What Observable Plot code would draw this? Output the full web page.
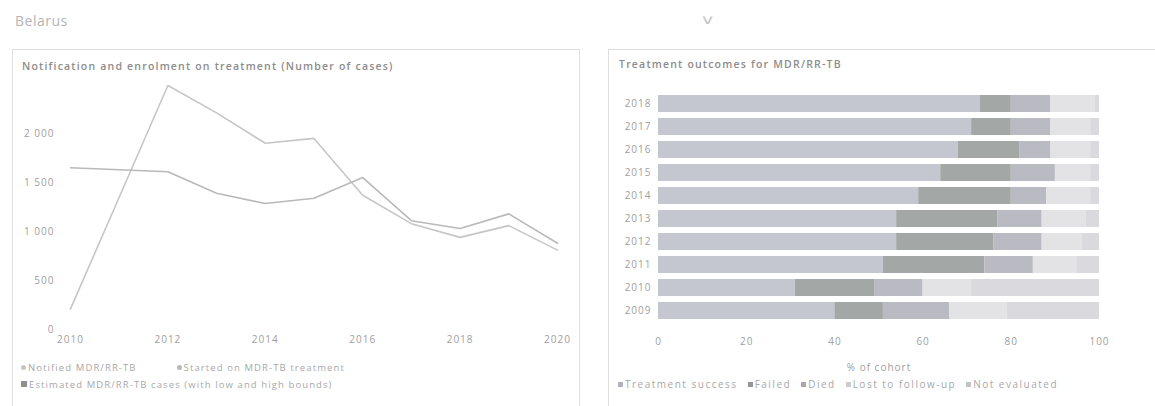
<!DOCTYPE html>
<html><head><meta charset="utf-8">
<script src="https://cdn.jsdelivr.net/npm/d3@7"></script>
<script src="https://cdn.jsdelivr.net/npm/@observablehq/plot@0.6"></script>
<style>
body{margin:0;width:1155px;height:406px;overflow:hidden;background:#fff;font-family:"Open Sans",sans-serif;position:relative}
.abs{position:absolute}
.country{left:15px;top:11px;font-size:14px;color:#b4b4b4;letter-spacing:0.5px}
.chev{left:700px;top:10px;font-size:13px;color:#c8c8c8;transform:scaleX(1.6);transform-origin:left top}
.panel{border:1px solid #dedede;}
.ptitle{font-size:10.5px;font-weight:600;color:#8c8c8c;letter-spacing:1.2px;white-space:nowrap}
.legend{font-size:9.5px;color:#a8a8a8;letter-spacing:1.1px;white-space:nowrap}
.sw{display:inline-block;width:5px;height:5px;margin-right:2px;vertical-align:1px}
.dot{border-radius:50%}
</style>
</head><body>
<div class="abs country">Belarus</div>
<div class="abs chev">∨</div>
<div class="abs panel" style="left:12px;top:49px;width:566px;height:370px"></div>
<div class="abs panel" style="left:608px;top:49px;width:560px;height:370px"></div>
<div class="abs ptitle" style="left:22px;top:59px">Notification and enrolment on treatment (Number of cases)</div>
<div class="abs ptitle" style="left:619px;top:57px">Treatment outcomes for MDR/RR-TB</div>
<div id="left" class="abs" style="left:13px;top:75px"></div>
<div id="right" class="abs" style="left:609px;top:75px"></div>
<div id="legL1" class="abs legend" style="left:21px;top:361px"></div>
<div id="legL2" class="abs legend" style="left:21px;top:378px"></div>
<div id="legR" class="abs legend" style="left:618px;top:377px;font-size:10px;letter-spacing:1.5px"></div>
<script>
// ---- Left chart data ----
const years = [2010, 2011, 2012, 2013, 2014, 2015, 2016, 2017, 2018, 2019, 2020];
const notified = [210, 1350, 2490, 2210, 1900, 1950, 1370, 1080, 940, 1060, 810];
const started = [1650, 1630, 1610, 1390, 1285, 1340, 1550, 1110, 1030, 1180, 880];
const yTicks = [0, 500, 1000, 1500, 2000];
const xTicks = [2010, 2012, 2014, 2016, 2018, 2020];
const lineSeries = ["Notified MDR/RR-TB", "Started on MDR-TB treatment"];
const estLabel = "Estimated MDR/RR-TB cases (with low and high bounds)";

// ---- Right chart data ----
const cohorts = [2018, 2017, 2016, 2015, 2014, 2013, 2012, 2011, 2010, 2009];
const outcomes = ["Treatment success", "Failed", "Died", "Lost to follow-up", "Not evaluated"];
const success = [73, 71, 68, 64, 59, 54, 54, 51, 31, 40];
const failed  = [7, 9, 14, 16, 21, 23, 22, 23, 18, 11];
const died    = [9, 9, 7, 10, 8, 10, 11, 11, 11, 15];
const lost    = [10, 9, 9, 8, 10, 10, 9, 10, 11, 13];
const notEval = [1, 2, 2, 2, 2, 3, 4, 5, 29, 21];
const pctTicks = [0, 20, 40, 60, 80, 100];

const lineColors = ["#c6c6c6", "#b9b9b9"];
const outcomeColors = ["#c4c7d0", "#a3a7a5", "#b9bac2", "#e3e3e6", "#d9d9de"];

const fmtThousands = d => d3.format(",")(d).replace(/,/g, " ");
const baseStyle = {fontFamily: "Open Sans", fontSize: "10px", color: "#a0a0a0", background: "transparent", letterSpacing: "1px"};

const lineData = [];
years.forEach((y, i) => {
  lineData.push({year: y, value: notified[i], series: lineSeries[0]});
  lineData.push({year: y, value: started[i], series: lineSeries[1]});
});

const left = Plot.plot({
  width: 560, height: 274,
  marginLeft: 57, marginRight: 16, marginTop: 9, marginBottom: 20,
  style: baseStyle,
  x: {domain: [2010, 2020], ticks: xTicks, tickFormat: d3.format("d"), tickSize: 0, tickPadding: 6, label: null},
  y: {domain: [0, 2500], ticks: yTicks, tickFormat: fmtThousands, tickSize: 0, tickPadding: 16, label: null},
  color: {domain: lineSeries, range: lineColors},
  marks: [
    Plot.line(lineData, {x: "year", y: "value", z: "series", stroke: "series", strokeWidth: 1.6})
  ]
});
document.getElementById("left").appendChild(left);

const barData = [];
cohorts.forEach((c, i) => {
  const vals = [success[i], failed[i], died[i], lost[i], notEval[i]];
  outcomes.forEach((o, j) => barData.push({cohort: String(c), outcome: o, value: vals[j]}));
});

const right = Plot.plot({
  width: 546, height: 298,
  marginLeft: 49, marginRight: 56, marginTop: 10, marginBottom: 45,
  style: baseStyle,
  x: {domain: [0, 100], ticks: pctTicks, tickSize: 0, tickPadding: 9, label: "% of cohort", labelAnchor: "center", labelArrow: false},
  y: {domain: cohorts.map(String), padding: 0.28, tickSize: 0, tickPadding: 7, label: null},
  color: {domain: outcomes, range: outcomeColors},
  marks: [
    Plot.barX(barData, {x: "value", y: "cohort", fill: "outcome", order: outcomes})
  ]
});
document.getElementById("right").appendChild(right);

// HTML legends
const legL1 = document.getElementById("legL1");
lineSeries.forEach((s, i) => {
  const it = document.createElement("span");
  it.style.marginRight = i === 0 ? "40px" : "0";
  it.innerHTML = `<span class="sw dot" style="background:${lineColors[i]}"></span>${s}`;
  legL1.appendChild(it);
});
document.getElementById("legL2").innerHTML = `<span class="sw" style="background:#8f8f8f;width:6px;height:6px"></span>${estLabel}`;
const legR = document.getElementById("legR");
outcomes.forEach((o, i) => {
  const it = document.createElement("span");
  it.style.marginRight = "10px";
  it.innerHTML = `<span class="sw" style="background:${d3.color(outcomeColors[i]).darker(0.3)}"></span>${o}`;
  legR.appendChild(it);
});
</script>
</body></html>
